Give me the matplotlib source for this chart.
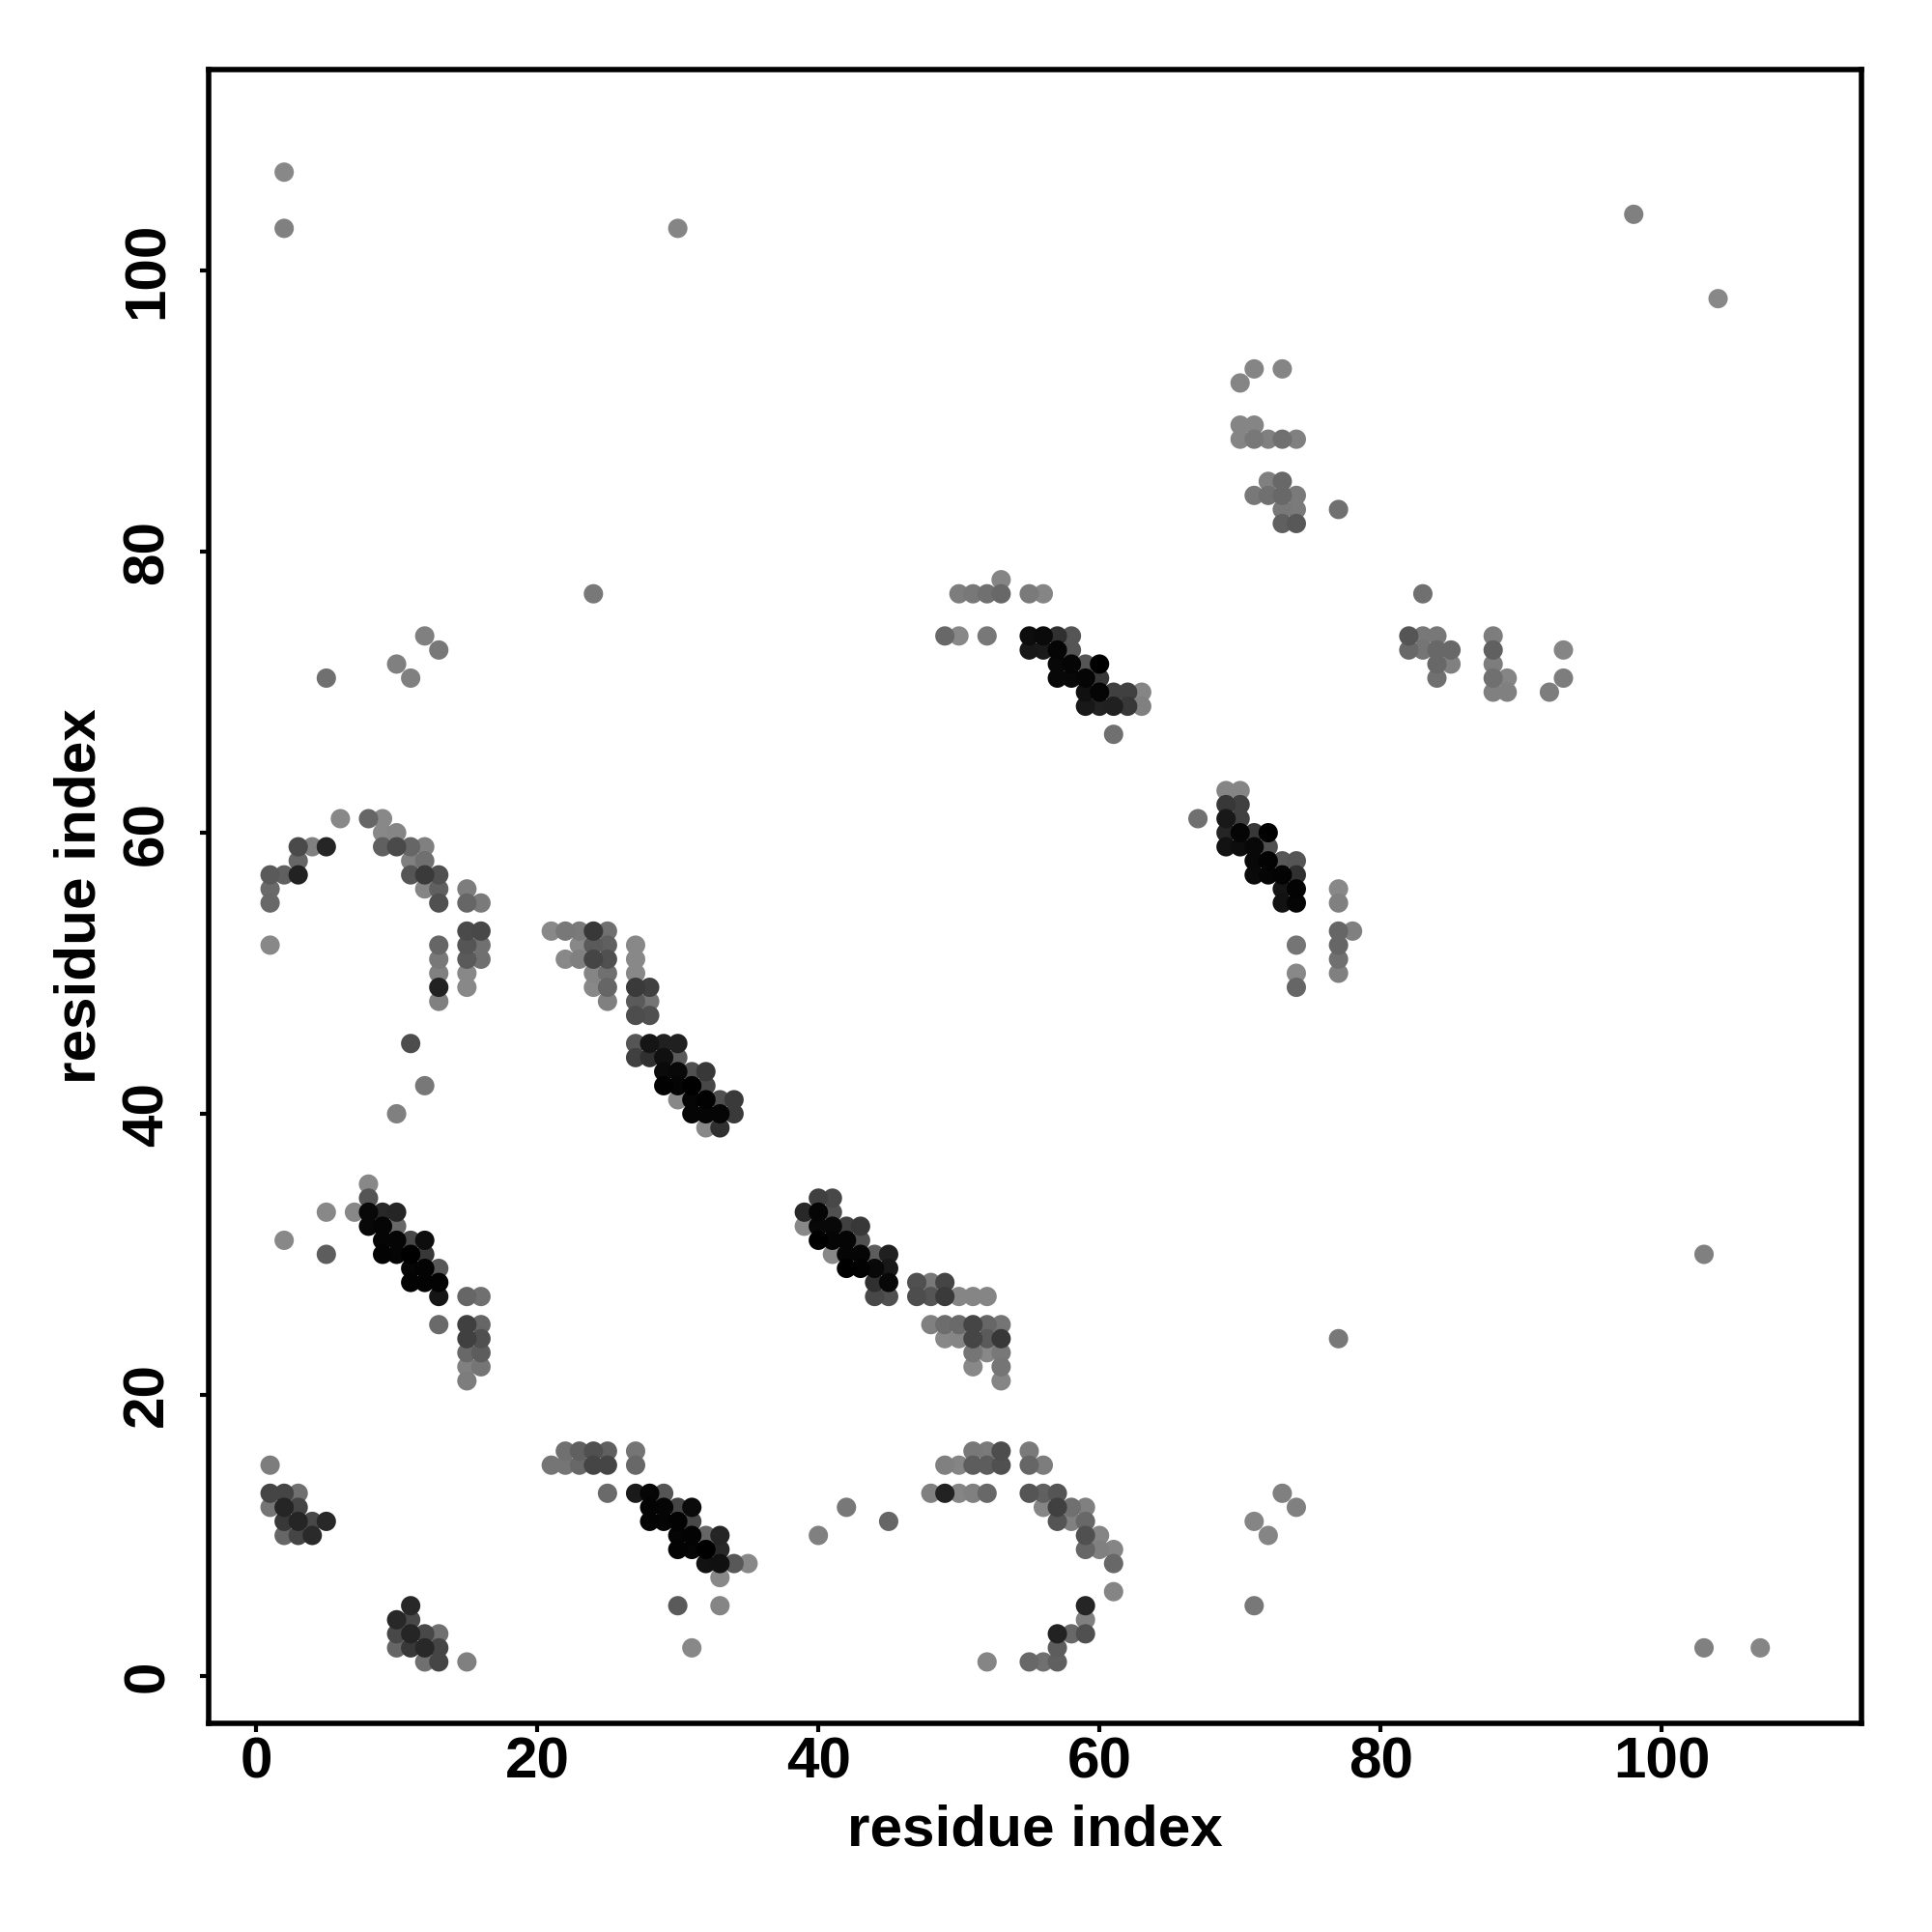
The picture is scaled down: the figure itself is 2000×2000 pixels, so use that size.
"""Residue contact map, one grey dot per contact."""

import matplotlib

matplotlib.use("Agg")
import matplotlib.pyplot as plt
import numpy as np

# one entry per row of dots: y, the x values on that row, their grey level (hex)
row_y = [
    61, 60, 59, 58, 57, 56, 55, 53, 52, 51, 50, 49, 48, 45,
    53, 52, 51, 50, 49, 48, 47, 45, 44, 43, 42, 41, 40, 39,
    35, 34, 33, 32, 31, 30, 29, 28, 27, 25, 24, 23, 22, 21,
    34, 33, 32, 31, 30, 29, 28, 27, 25, 24, 23, 22, 21,
    15, 13, 12, 11, 10, 5, 4, 3, 2, 1,
    16, 15, 13, 12, 11, 10, 9, 8, 7, 5, 2,
    16, 15, 13, 12, 11, 10, 9, 8, 6, 5, 4, 3, 2, 1,
    78, 77, 74, 73, 72, 71, 70, 69, 67,
    63, 62, 61, 60, 59, 58, 57, 56, 55, 53, 52, 51, 50, 49,
    93, 92, 89, 88, 85, 84, 83, 82,
    77, 74, 73, 72, 71, 70,
    107, 103, 104, 98, 77, 71, 72, 74, 73, 40, 42,
    30, 24, 10, 12, 11, 13, 5, 2,
]
row_x = [
    [6, 8, 9], [9, 10], [3, 4, 5, 9, 10, 11, 12], [3, 11, 12], [1, 2, 3, 11, 12, 13],
    [1, 12, 13, 15], [1, 13, 15, 16], [15, 16], [1, 13, 15, 16], [13, 15, 16],
    [13, 15], [13, 15], [13], [11],
    [21, 22, 23, 24, 25], [23, 24, 25, 27], [22, 23, 24, 25, 27], [24, 25, 27],
    [24, 25, 27, 28], [25, 27, 28], [27, 28], [27, 28, 29, 30], [27, 28, 29, 30],
    [29, 30, 31, 32], [29, 30, 31, 32], [30, 31, 32, 33, 34], [31, 32, 33, 34], [32, 33],
    [8], [8], [5, 7, 8, 9, 10], [8, 9, 10], [2, 9, 10, 11, 12], [5, 9, 10, 11, 12],
    [11, 12, 13], [11, 12, 13], [13, 15, 16], [13, 15, 16], [15, 16], [15, 16], [15, 16], [15],
    [40, 41], [39, 40, 41], [39, 40, 41, 42, 43], [40, 41, 42, 43], [41, 42, 43, 44, 45],
    [42, 43, 44, 45], [44, 45, 47, 48, 49], [44, 45, 47, 48, 49, 50, 51, 52],
    [48, 49, 50, 51, 52, 53], [49, 50, 51, 52, 53], [51, 52, 53], [51, 53], [53],
    [1], [1, 2, 3], [1, 2, 3], [2, 3, 4, 5], [2, 3, 4], [11], [10, 11], [10, 11, 12, 13],
    [10, 11, 12, 13], [12, 13, 15],
    [22, 23, 24, 25, 27], [21, 22, 23, 24, 25, 27], [25, 27, 28, 29], [28, 29, 30, 31],
    [28, 29, 30, 31], [30, 31, 32, 33], [30, 31, 32, 33], [32, 33, 34, 35], [33], [30, 33], [31],
    [51, 52, 53, 55], [49, 50, 51, 52, 53, 55, 56], [48, 49, 50, 51, 52, 55, 56, 57],
    [56, 57, 58, 59], [57, 58, 59], [59, 60], [59, 60, 61], [61], [61], [59], [59],
    [57, 58, 59], [57], [52, 55, 56, 57],
    [53], [50, 51, 52, 53, 55, 56], [49, 50, 52, 55, 56, 57, 58], [55, 56, 57, 58],
    [57, 58, 59, 60], [57, 58, 59, 60], [59, 60, 61, 62, 63], [59, 60, 61, 62, 63], [61],
    [69, 70], [69, 70], [67, 69, 70], [69, 70, 71, 72], [69, 70, 71, 72], [71, 72, 73, 74],
    [71, 72, 73, 74], [73, 74, 77], [73, 74, 77], [77, 78], [74, 77], [77], [74, 77], [74],
    [71, 73], [70], [70, 71], [70, 71, 72, 73, 74], [72, 73], [71, 72, 73, 74],
    [73, 74, 77], [73, 74],
    [83], [82, 83, 84, 88], [82, 83, 84, 85, 88, 93], [84, 85, 88], [84, 88, 89, 93],
    [88, 89, 92],
    [2], [2, 30], [98], [104], [24], [5, 11], [10], [12], [13], [10], [12],
    [103], [77], [40, 72], [42, 74], [45, 71], [73], [71], [103, 107],
]
row_gray = [
    "88 66 88", "88 85", "4a 80 25 60 4a 66 80", "66 80 70", "5a 60 22 55 3a 50",
    "6a 85 60 7d", "68 50 66 7a", "4a 48", "88 66 55 70", "78 5a 70",
    "80 88", "22 88", "80", "4d",
    "88 78 7a 38 70", "88 5a 60 88", "88 80 45 50 88", "85 70 88",
    "88 66 3a 40", "80 5a 75", "4d 50", "55 15 20 20", "40 30 10 5a",
    "0a 08 50 38", "02 05 00 48", "88 05 02 50 3a", "05 05 05 3a", "88 30",
    "88", "55", "88 88 08 28 25", "08 05 68", "88 05 05 48 0d", "5d 03 05 00 38",
    "05 03 58", "03 03 03", "15 66 70", "6a 40 66", "40 50", "68 5d", "80 75", "7d",
    "40 48", "28 05 50", "88 08 08 40 38", "00 05 05 50", "88 05 05 5d 20",
    "00 02 08 18", "30 08 50 78 45", "48 50 4d 55 3a 85 85 85",
    "80 6d 6a 45 66 75", "88 85 45 5a 38", "75 88 78", "88 75", "85",
    "7d", "45 45 70", "75 25 45", "38 25 48 28", "66 45 2a", "28", "28 48", "48 25 48 70",
    "66 38 28 45", "70 45 80",
    "70 60 50 60 75", "75 75 68 45 45 68", "6a 1a 05 55", "03 05 45 0a",
    "03 05 02 48", "05 03 66 25", "03 05 00 28", "12 10 58 88", "88", "5a 85", "88",
    "78 7a 4d 7a", "80 85 5d 5d 50 66 7d", "80 22 85 80 68 55 60 55",
    "85 40 70 80", "55 80 68", "50 85", "66 80 85", "68", "85", "25", "80",
    "22 68 50", "5d", "85 68 70 60",
    "85", "7d 78 70 68 7a 85", "68 88 78 0d 0a 30 55", "18 1a 05 55",
    "08 05 55 00", "08 08 05 38", "10 05 40 40 85", "18 22 20 38 80", "70",
    "85 85", "38 40", "70 18 40", "25 05 38 00", "12 0d 08 50", "08 03 58 55",
    "0a 05 03 30", "15 03 88", "12 05 80", "66 80", "75 66", "70", "88 80", "66",
    "85 85", "85", "85 85", "85 78 80 70 80", "80 68", "78 70 68 7a",
    "78 7a 70", "60 58",
    "70", "55 78 78 7d", "68 75 68 68 60 85", "68 80 7d", "70 70 85 7d",
    "80 80 7d",
    "88", "80 85", "80", "88", "78", "70 80", "80", "80", "78", "80", "78",
    "80", "78", "80 85", "78 80", "66 85", "80", "78", "80 85",
]

x_ticks = [0, 20, 40, 60, 80, 100]
y_ticks = [0, 20, 40, 60, 80, 100]
x_label = "residue index"
y_label = "residue index"

plt.rcParams["font.family"] = ["Liberation Sans", "DejaVu Sans"]
plt.rcParams["font.weight"] = "bold"


def collect_points():
    xs, ys, grays = [], [], []
    for y, row, shades in zip(row_y, row_x, row_gray, strict=True):
        shades = shades.split()
        assert len(row) == len(shades), (y, row)
        for x, shade in zip(row, shades):
            xs.append(x)
            ys.append(y)
            grays.append(int(shade, 16) / 255)
    return np.array(xs), np.array(ys), np.array(grays)


def main():
    xs, ys, grays = collect_points()
    order = np.argsort(-grays)  # dark dots end up on top

    fig = plt.figure(figsize=(10, 10), dpi=200)
    ax = fig.add_axes([216 / 2000, 216 / 2000, 1711 / 2000, 1712 / 2000])
    ax.scatter(
        xs[order], ys[order], s=52, c=[(g, g, g) for g in grays[order]],
        linewidths=0, zorder=2,
    )
    ax.set_xlim(-3.37, 114.2)
    ax.set_ylim(-3.37, 114.3)

    for spine in ax.spines.values():
        spine.set_linewidth(2.0)
    ax.set_xticks(x_ticks)
    ax.set_yticks(y_ticks)
    ax.tick_params(axis="both", length=3.2, width=1.5, labelsize=21.7)
    ax.tick_params(axis="x", pad=1.5)
    ax.tick_params(axis="y", pad=9.5)
    plt.setp(ax.get_yticklabels(), rotation=90, va="center")

    ax.set_xlabel(x_label, fontsize=21.7, fontweight="bold", labelpad=5.5)
    ax.set_ylabel(y_label, fontsize=21.7, fontweight="bold", labelpad=5.3)

    fig.savefig("out.png", dpi=200)


if __name__ == "__main__":
    main()
